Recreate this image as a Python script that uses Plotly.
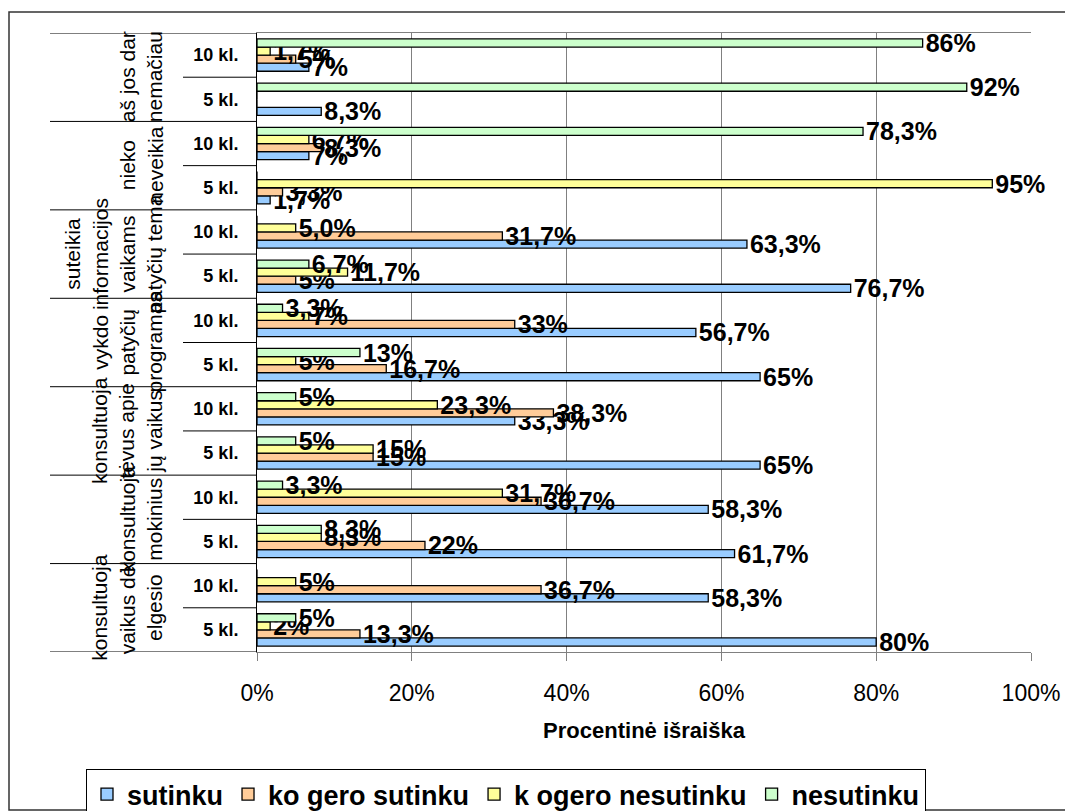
import plotly.graph_objects as go

# ---- data (bottom -> top) ----
groups = [
    ["konsultuoja", "vaikus dėl", "elgesio"],
    ["konsultuoja", "mokinius"],
    ["konsultuoja", "tėvus apie", "jų vaikus"],
    ["vykdo", "patyčių", "programas"],
    ["suteikia", "informacijos", "vaikams", "patyčių tema"],
    ["nieko", "neveikia"],
    ["aš jos dar", "nemačiau"],
]
classes = ["5 kl.", "10 kl."]

series_names = ["sutinku", "ko gero sutinku", "k ogero nesutinku", "nesutinku"]

sutinku = [80, 58.3, 61.7, 58.3, 65, 33.3, 65, 56.7, 76.7, 63.3, 1.7, 6.7, 8.3, 6.7]
ko_gero_sutinku = [13.3, 36.7, 21.7, 36.7, 15, 38.3, 16.7, 33.3, 5, 31.7, 3.3, 8.3, 0, 5]
ko_gero_nesutinku = [1.7, 5, 8.3, 31.7, 15, 23.3, 5, 6.7, 11.7, 5, 95, 6.7, 0, 1.7]
nesutinku = [5, 0, 8.3, 3.3, 5, 5, 13.3, 3.3, 6.7, 0, 0, 78.3, 91.7, 86]

lbl_sutinku = ["80%", "58,3%", "61,7%", "58,3%", "65%", "33,3%", "65%", "56,7%",
               "76,7%", "63,3%", "1,7%", "7%", "8,3%", "7%"]
lbl_ko_gero_sutinku = ["13,3%", "36,7%", "22%", "36,7%", "15%", "38,3%", "16,7%", "33%",
                       "5%", "31,7%", "3,3%", "8,3%", "", "5%"]
lbl_ko_gero_nesutinku = ["2%", "5%", "8,3%", "31,7%", "15%", "23,3%", "5%", "7%",
                         "11,7%", "5,0%", "95%", "6,7%", "", "1,7%"]
lbl_nesutinku = ["5%", "", "8,3%", "3,3%", "5%", "5%", "13%", "3,3%",
                 "6,7%", "", "", "78,3%", "92%", "86%"]

x_ticks = [0, 20, 40, 60, 80, 100]
x_ticktext = ["0%", "20%", "40%", "60%", "80%", "100%"]
x_title = "Procentinė išraiška"

colors = ["#99CCFF", "#FFCC99", "#FFFF99", "#CCFFCC"]
FONT = "Arial, 'Liberation Sans', sans-serif"

values = [sutinku, ko_gero_sutinku, ko_gero_nesutinku, nesutinku]
labels = [lbl_sutinku, lbl_ko_gero_sutinku, lbl_ko_gero_nesutinku, lbl_nesutinku]

n = len(groups) * len(classes)
ypos = list(range(n))
yticktext = [classes[i % 2] for i in range(n)]

fig = go.Figure()
for name, vals, lbls, col in zip(series_names, values, labels, colors):
    fig.add_trace(go.Bar(
        name=name, orientation="h", x=vals, y=ypos,
        marker=dict(color=col, line=dict(color="#000000", width=1.3)),
        text=lbls, textposition="outside", constraintext="none", cliponaxis=False,
        textfont=dict(family=FONT, size=25, color="black", weight="bold"),
        hoverinfo="skip",
    ))

# page offset (html body margin) and figure size
OFF = 8
FW, FH = 1073 - OFF, 811 - OFF
# plot-area geometry in screen pixels
L, R, T, B = 257, 1031, 33, 652
W, H = R - L, B - T
def px(xs):
    return (xs - L) / W
def py(ys):
    return (B - ys) / H

shapes = []
shapes.append(dict(type="rect", xref="paper", yref="paper",
                   x0=px(9), x1=px(1068), y0=py(810), y1=py(12),
                   line=dict(color="#333333", width=1.5), layer="below"))
for k in range(n + 1):
    b = k - 0.5
    long_line = (k % 2 == 0)
    shapes.append(dict(type="line", xref="paper", yref="y",
                       x0=px(50) if long_line else px(183), x1=0, y0=b, y1=b,
                       line=dict(color="#000000", width=1)))

annotations = []
for gi, lines in enumerate(groups):
    annotations.append(dict(
        xref="paper", yref="y", x=px(168), y=2 * gi + 0.5,
        xanchor="right", yanchor="middle", textangle=-90,
        text="<br>".join(lines), showarrow=False, align="center",
        font=dict(family=FONT, size=21, color="black"),
    ))

fig.update_layout(
    width=FW, height=FH,
    margin=dict(l=L - OFF, r=FW - (R - OFF), t=T - OFF, b=FH - (B - OFF), autoexpand=False),
    paper_bgcolor="white", plot_bgcolor="white",
    barmode="group", bargap=0.27, bargroupgap=0,
    font=dict(family=FONT, color="black"),
    shapes=shapes, annotations=annotations,
    legend=dict(orientation="h",
                x=px(86), xanchor="left",
                y=py(769), yanchor="top",
                bordercolor="#000000", borderwidth=1, bgcolor="white",
                font=dict(family=FONT, size=27, color="black", weight="bold"),
                traceorder="normal", itemwidth=30),
    xaxis=dict(range=[0, 100], tickvals=x_ticks, ticktext=x_ticktext,
               showgrid=True, gridcolor="#808080", gridwidth=1,
               showline=True, linecolor="#808080", linewidth=1, mirror=True,
               ticks="outside", ticklen=8, tickcolor="#808080",
               zeroline=False, ticklabelstandoff=12,
               tickfont=dict(family=FONT, size=23, color="black"),
               title=dict(text=x_title, standoff=18,
                          font=dict(family=FONT, size=22, color="black", weight="bold"))),
    yaxis=dict(range=[-0.5, n - 0.5], tickvals=ypos, ticktext=yticktext,
               showgrid=False, zeroline=False, showline=True, linecolor="#000000",
               linewidth=1, ticks="", ticklabelstandoff=14,
               tickfont=dict(family=FONT, size=18, color="black", weight="bold")),
)

fig.write_html("out.html")
